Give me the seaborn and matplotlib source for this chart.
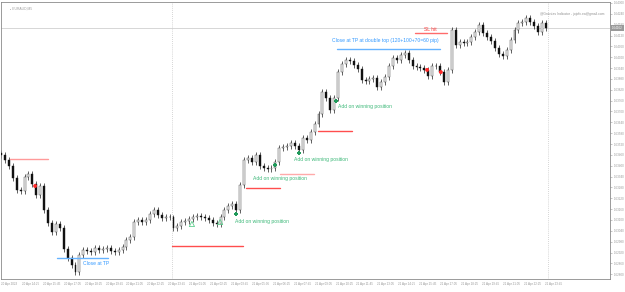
import numpy as np
import pandas as pd
import matplotlib
matplotlib.use("Agg")
import matplotlib.pyplot as plt
import seaborn as sns

# ── Data: EURAUD 15-min closes ──────────────────────────────
closes = [
    1.63459, 1.63432, 1.63399, 1.63332, 1.63266, 1.63260, 1.63338, 1.63354, 1.63299, 1.63238,
    1.63288, 1.63155, 1.63083, 1.63034, 1.63080, 1.63056, 1.62940, 1.62890, 1.62851, 1.62812,
    1.62906, 1.62934, 1.62929, 1.62925, 1.62945, 1.62934, 1.62940, 1.62945, 1.62929, 1.62923,
    1.62934, 1.62951, 1.62989, 1.63006, 1.63089, 1.63100, 1.63089, 1.63100, 1.63133, 1.63155,
    1.63128, 1.63111, 1.63117, 1.63114, 1.63056, 1.63067, 1.63089, 1.63094, 1.63106, 1.63117,
    1.63122, 1.63117, 1.63111, 1.63100, 1.63083, 1.63078, 1.63117, 1.63155, 1.63177, 1.63188,
    1.63155, 1.63294, 1.63432, 1.63443, 1.63421, 1.63459, 1.63399, 1.63388, 1.63382, 1.63388,
    1.63421, 1.63498, 1.63504, 1.63509, 1.63526, 1.63509, 1.63487, 1.63553, 1.63542, 1.63587,
    1.63631, 1.63686, 1.63808, 1.63775, 1.63708, 1.63775, 1.63918, 1.63963, 1.63985, 1.63980,
    1.63957, 1.63935, 1.63874, 1.63869, 1.63880, 1.63885, 1.63836, 1.63863, 1.63891, 1.63952,
    1.63996, 1.63985, 1.64012, 1.64024, 1.63985, 1.63952, 1.63946, 1.63941, 1.63930, 1.63896,
    1.63952, 1.63950, 1.63918, 1.63863, 1.63930, 1.64151, 1.64068, 1.64084, 1.64079, 1.64084,
    1.64112, 1.64140, 1.64178, 1.64134, 1.64112, 1.64090, 1.64051, 1.64018, 1.64007, 1.64040,
    1.64095, 1.64151, 1.64189, 1.64195, 1.64217, 1.64195, 1.64173, 1.64140, 1.64189, 1.64162,
]
first_open = 1.63470

# stop-loss levels: (start bar, end bar, price, colour)
sl_lines = [
    (2.3, 12.0, 1.63437, "#ff9a9a"),
    (43.6, 61.7, 1.62956, "#ff4d4d"),
    (62.5, 71.2, 1.63277, "#ff4d4d"),
    (71.2, 79.8, 1.63354, "#ffaaaa"),
    (80.9, 89.5, 1.63592, "#ff4d4d"),
    (105.6, 113.8, 1.64134, "#ff6b6b"),
]
# take-profit levels
tp_lines = [
    (14.3, 27.3, 1.62890),
    (85.7, 112.0, 1.64046),
]

add_bars   = [60.0, 69.9, 76.0, 85.5]
add_prices = [1.63133, 1.63404, 1.63471, 1.63758]
add_text_bars   = [59.7, 64.3, 74.7, 86.0]
add_text_prices = [1.63094, 1.63327, 1.63437, 1.63730]

entry_bars   = [48.7, 55.9]
entry_prices = [1.63078, 1.63089]

exit_bars   = [8.7, 108.7, 112.2]
exit_prices = [1.63288, 1.63930, 1.63918]

x_labels = ["20 Apr 2023", "20 Apr 14:25", "20 Apr 15:45", "20 Apr 17:05", "20 Apr 18:25",
            "20 Apr 19:45", "20 Apr 21:05", "20 Apr 22:25", "20 Apr 23:45", "21 Apr 01:05",
            "21 Apr 02:25", "21 Apr 03:45", "21 Apr 05:05", "21 Apr 06:25", "21 Apr 07:45",
            "21 Apr 09:05", "21 Apr 10:25", "21 Apr 11:45", "21 Apr 13:05", "21 Apr 14:25",
            "21 Apr 15:45", "21 Apr 17:05", "21 Apr 18:25", "21 Apr 19:45", "21 Apr 21:05",
            "21 Apr 22:25", "21 Apr 23:45"]
y_ticks = [1.62800 + 0.0006 * n for n in range(26)]

# ── Build candles ──────────────────────────────────────────
df = pd.DataFrame({"close": closes})
df["open"] = [first_open] + closes[:-1]
df["bar"] = np.arange(len(df))
wick = 0.00016
df["high"] = df[["open", "close"]].max(axis=1) + wick
df["low"] = df[["open", "close"]].min(axis=1) - wick
df["up"] = df["close"] >= df["open"]

sns.set_theme(style="white")
plt.rcParams["font.family"] = ["Liberation Sans", "DejaVu Sans"]

fig = plt.figure(figsize=(6.25, 2.92), dpi=100)
ax = fig.add_axes([0.5 / 625, 13 / 292, 609.5 / 625, 277 / 292])

ax.vlines(df["bar"], df["low"], df["high"], color="#222222", lw=0.5, zorder=2)
body = (df["close"] - df["open"]).abs().clip(lower=0.00002)
bottom = df[["open", "close"]].min(axis=1)
ax.bar(df["bar"][df["up"]], body[df["up"]], bottom=bottom[df["up"]], width=0.5,
       color="#f4f4f4", edgecolor="#333333", lw=0.3, zorder=3)
ax.bar(df["bar"][~df["up"]], body[~df["up"]], bottom=bottom[~df["up"]], width=0.5,
       color="#111111", edgecolor="#111111", lw=0.3, zorder=3)

# current price line & separators
last = closes[-1]
ax.axhline(last, color="#d0d0d0", lw=0.6, zorder=1)
for xs in [43.67, 139.5]:
    ax.axvline(xs, color="#c8c8c8", lw=0.6, ls=(0, (1, 1.5)), zorder=1)

# levels
for x0, x1, p, c in sl_lines:
    sns.lineplot(x=[x0, x1], y=[p, p], color=c, lw=1.0, ax=ax, zorder=4)
for x0, x1, p in tp_lines:
    sns.lineplot(x=[x0, x1], y=[p, p], color="#66b3ff", lw=1.0, ax=ax, zorder=4)

# markers
sns.scatterplot(x=add_bars, y=add_prices, marker="P", s=10, color="#1f9a5a",
                edgecolor="none", ax=ax, zorder=5)
sns.scatterplot(x=entry_bars, y=entry_prices, marker="^", s=14, facecolor="none",
                edgecolor="#5fcf8f", linewidth=0.6, ax=ax, zorder=5)
sns.scatterplot(x=exit_bars, y=exit_prices, marker="o", s=8, color="#ff2b2b",
                edgecolor="none", ax=ax, zorder=5)

# annotations
fs = 3.6
for xb, p in zip(add_text_bars, add_text_prices):
    ax.text(xb, p, "Add on winning position", fontsize=fs, color="#3cb878",
            ha="left", va="center", zorder=6)
ax.text(20.9, 1.62857, "Close at TP", fontsize=fs, color="#3399ff", ha="left", va="center")
ax.text(84.4, 1.64095, "Close at TP at double top (120+100+70=60 pip)", fontsize=fs,
        color="#3399ff", ha="left", va="center")
ax.text(109.4, 1.64151, "SL hit", fontsize=fs, color="#ff3333", ha="center", va="center")
ax.text(0.015, 0.985, "\u25aa EURAUD,M5", transform=ax.transAxes, fontsize=2.4,
        color="#a0a0a0", ha="left", va="top")
ax.text(0.99, 0.965, "@Gravitas Indicator - jojofx.ea@gmail.com", transform=ax.transAxes,
        fontsize=2.4, color="#909090", ha="right", va="top")

# axes
ax.set_xlim(-0.13, 155.36)
ax.set_ylim(1.627737, 1.643055)
ax.set_xticks([80 * j / 15 for j in range(len(x_labels))])
ax.set_xticklabels(x_labels, fontsize=2.2, color="#999999", ha="left")
ax.yaxis.tick_right()
ax.set_yticks(y_ticks)
ax.set_yticklabels([f"{v:.5f}" for v in y_ticks], fontsize=2.2, color="#999999")
ax.tick_params(axis="both", length=1.5, width=0.4, color="#999999", pad=1)
ax.set_xlabel("")
ax.set_ylabel("")
for s in ax.spines.values():
    s.set_color("#8a8a8a")
    s.set_linewidth(0.6)

# current price tag on the right axis
ax.annotate(f"{last:.5f}", xy=(1.0, last), xycoords=("axes fraction", "data"),
            xytext=(1.5, 0), textcoords="offset points", fontsize=2.2, color="white",
            va="center", ha="left",
            bbox=dict(boxstyle="square,pad=0.3", fc="#9a9a9a", ec="none"))

if ax.get_legend():
    ax.get_legend().remove()

fig.savefig("out.png", dpi=100)
